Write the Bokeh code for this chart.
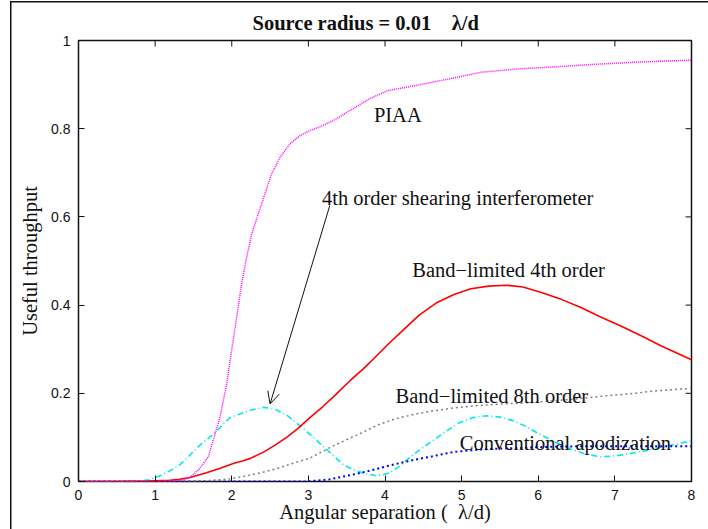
import math
from bokeh.plotting import figure
from bokeh.models import Range1d, FixedTicker, Label, Arrow, OpenHead
from bokeh.embed import file_html
from bokeh.resources import INLINE

# ---------------- data ----------------
x_ticks = [0, 1, 2, 3, 4, 5, 6, 7, 8]
x_tick_labels = ["0", "1", "2", "3", "4", "5", "6", "7", "8"]
y_ticks = [0, 0.2, 0.4, 0.6, 0.8, 1]
y_tick_labels = ["0", "0.2", "0.4", "0.6", "0.8", "1"]

piaa_x = [0, 0.5, 1.0, 1.2, 1.35, 1.455, 1.585, 1.694, 1.781, 1.846, 1.933, 1.998,
          2.064, 2.129, 2.194, 2.26, 2.346, 2.433, 2.52, 2.63, 2.76, 2.89, 3.02,
          3.15, 3.32, 3.59, 3.8, 4.03, 4.46, 4.9, 5.25, 5.77, 6.2, 6.64, 7.29, 7.94, 8.0]
piaa_y = [0, 0, 0, 0.001, 0.003, 0.009, 0.03, 0.056, 0.107, 0.145, 0.221, 0.297,
          0.372, 0.448, 0.508, 0.561, 0.607, 0.652, 0.697, 0.735, 0.766, 0.784, 0.796,
          0.804, 0.818, 0.846, 0.868, 0.886, 0.900, 0.915, 0.928, 0.936, 0.940, 0.945,
          0.951, 0.955, 0.955]

bl4_x = [0, 0.5, 0.9, 1.19, 1.32, 1.455, 1.67, 1.85, 2.02, 2.1, 2.15, 2.25, 2.41,
         2.56, 2.716, 2.85, 3.02, 3.19, 3.35, 3.54, 3.72, 3.855, 4.05, 4.247, 4.45,
         4.68, 4.9, 5.12, 5.35, 5.59, 5.8, 6.03, 6.3, 6.55, 6.8, 7.07, 7.35, 7.6, 7.8, 8.0]
bl4_y = [0, 0, 0.001, 0.003, 0.005, 0.009, 0.02, 0.03, 0.041, 0.045, 0.047, 0.053,
         0.066, 0.082, 0.100, 0.118, 0.145, 0.170, 0.196, 0.228, 0.256, 0.279, 0.313,
         0.345, 0.378, 0.406, 0.424, 0.437, 0.443, 0.445, 0.441, 0.429, 0.413, 0.395,
         0.374, 0.353, 0.330, 0.308, 0.292, 0.276]

bl8_x = [0, 1.0, 1.45, 1.7, 1.98, 2.2, 2.41, 2.6, 2.85, 3.02, 3.28, 3.5, 3.716, 3.9,
         4.15, 4.4, 4.586, 4.9, 5.2, 5.55, 5.9, 6.2, 6.55, 6.86, 7.2, 7.51, 7.8, 8.0]
bl8_y = [0, 0, 0, 0.002, 0.006, 0.013, 0.021, 0.030, 0.044, 0.053, 0.077, 0.095,
         0.112, 0.128, 0.143, 0.153, 0.159, 0.167, 0.172, 0.176, 0.179, 0.183, 0.188,
         0.194, 0.199, 0.205, 0.209, 0.211]

shear_x = [0, 0.5, 0.8, 0.93, 1.05, 1.19, 1.324, 1.455, 1.6, 1.759, 1.977, 2.107,
           2.25, 2.41, 2.55, 2.716, 2.85, 3.02, 3.19, 3.28, 3.455, 3.6, 3.716, 3.89,
           4.06, 4.2, 4.32, 4.455, 4.586, 4.716, 4.85, 4.98, 5.15, 5.325, 5.5, 5.67,
           5.85, 6.02, 6.2, 6.37, 6.6, 6.8, 7.0, 7.15, 7.4, 7.59, 7.8, 8.0]
shear_y = [0, 0, 0.001, 0.004, 0.012, 0.024, 0.038, 0.060, 0.085, 0.107, 0.145,
           0.153, 0.162, 0.168, 0.165, 0.151, 0.132, 0.107, 0.080, 0.066, 0.038,
           0.026, 0.019, 0.013, 0.019, 0.036, 0.054, 0.072, 0.088, 0.104, 0.120,
           0.134, 0.145, 0.149, 0.146, 0.138, 0.124, 0.107, 0.091, 0.077, 0.063,
           0.056, 0.058, 0.062, 0.070, 0.077, 0.085, 0.092]

conv_x = [0, 1, 2, 2.98, 3.1, 3.28, 3.45, 3.59, 3.716, 3.9, 4.03, 4.15, 4.3, 4.46,
          4.586, 4.75, 4.9, 5.2, 5.55, 5.9, 6.2, 6.6, 7.07, 7.5, 8.0]
conv_y = [0, 0, 0, 0, 0.002, 0.005, 0.011, 0.016, 0.021, 0.029, 0.035, 0.040, 0.046,
          0.052, 0.056, 0.062, 0.067, 0.072, 0.075, 0.077, 0.079, 0.080, 0.080, 0.080,
          0.080]

NB = "\u00a0"
title_text = "Source radius = 0.01" + NB * 4 + "\u03bb/d"
x_label = "Angular separation (" + NB * 2 + "\u03bb/d)"
y_label = "Useful throughput"

annotations = [
    ("PIAA", 3.855, 0.830),
    ("4th order shearing interferometer", 3.177, 0.643),
    ("Band\u2212limited 4th order", 4.355, 0.480),
    ("Band\u2212limited 8th order", 4.138, 0.1945),
    ("Conventional apodization", 4.977, 0.0871),
]
arrow_start = (3.28, 0.626)
arrow_end = (2.50, 0.176)

SERIF = "Liberation Serif"
SANS = "Liberation Sans"
INK = "#111111"

# ---------------- figure ----------------
p = figure(width=708, height=529, x_range=Range1d(0, 8), y_range=Range1d(0, 1),
           output_backend="svg", toolbar_location=None,
           min_border_left=78, min_border_right=17, min_border_top=40,
           min_border_bottom=48, x_axis_label=x_label, y_axis_label=y_label)
p.grid.visible = False
p.outline_line_color = INK
p.outline_line_width = 1.5
p.background_fill_color = "white"
p.border_fill_color = None
# outer frame of the figure (left and top edges), painted behind the transparent border
p.styles = {
    "background": ("linear-gradient(#111,#111) 10px 1px / 1.5px 100% no-repeat, "
                   "linear-gradient(#111,#111) 10px 1px / 100% 1.5px no-repeat, white")
}

p.title.text = title_text
p.title.align = "left"
p.title.offset = 174
p.title.standoff = 14
p.title.text_font = SERIF
p.title.text_font_size = "20.5px"
p.title.text_font_style = "bold"
p.title.text_color = INK

for ax in (p.xaxis[0], p.yaxis[0]):
    ax.axis_line_color = None
    ax.major_tick_in = 6
    ax.major_tick_out = 0
    ax.minor_tick_line_color = None
    ax.major_tick_line_color = INK
    ax.major_tick_line_width = 1
    ax.major_label_text_font = SANS
    ax.major_label_text_font_size = "14px"
    ax.major_label_text_color = INK
    ax.axis_label_text_font = SERIF
    ax.axis_label_text_font_size = "20.5px"
    ax.axis_label_text_font_style = "normal"
    ax.axis_label_text_color = INK

p.xaxis.ticker = FixedTicker(ticks=x_ticks)
p.yaxis.ticker = FixedTicker(ticks=y_ticks)
p.xaxis.major_label_overrides = {float(t): l for t, l in zip(x_ticks, x_tick_labels)}
p.yaxis.major_label_overrides = {float(t): l for t, l in zip(y_ticks, y_tick_labels)}
p.xaxis.major_label_standoff = 8
p.xaxis.axis_label_standoff = -2
p.yaxis.major_label_standoff = 8
p.yaxis.axis_label_standoff = 7

# mirrored inward ticks on the top and right edges (half of each dash is clipped by the frame)
p.scatter(x_ticks, [y_ticks[-1]] * len(x_ticks), marker="dash", angle=math.pi / 2,
          size=12, line_color=INK, line_width=1)
p.scatter([x_ticks[-1]] * len(y_ticks), y_ticks, marker="dash", angle=0,
          size=12, line_color=INK, line_width=1)

# ---------------- series ----------------
p.line(shear_x, shear_y, line_color="#00e8e8", line_width=1.6, line_dash="6 3 1 3")
p.line(conv_x, conv_y, line_color="#0000ff", line_width=2, line_dash="2 3")
p.line(bl8_x, bl8_y, line_color="#808080", line_width=1.5, line_dash="2 3")
p.line(bl4_x, bl4_y, line_color="#ff0000", line_width=1.6)
p.line(piaa_x, piaa_y, line_color="#ff00ff", line_width=1.5, line_dash="1 1")

# ---------------- annotations ----------------
for txt, ax_, ay_ in annotations:
    p.add_layout(Label(x=ax_, y=ay_, text=txt, text_font=SERIF, text_font_size="20.5px",
                       text_baseline="alphabetic", text_align="left", text_color=INK))

p.add_layout(Arrow(end=OpenHead(size=12, line_width=1, line_color=INK),
                   x_start=arrow_start[0], y_start=arrow_start[1],
                   x_end=arrow_end[0], y_end=arrow_end[1],
                   line_width=1, line_color=INK))

open("out.html", "w").write(file_html(p, INLINE))
